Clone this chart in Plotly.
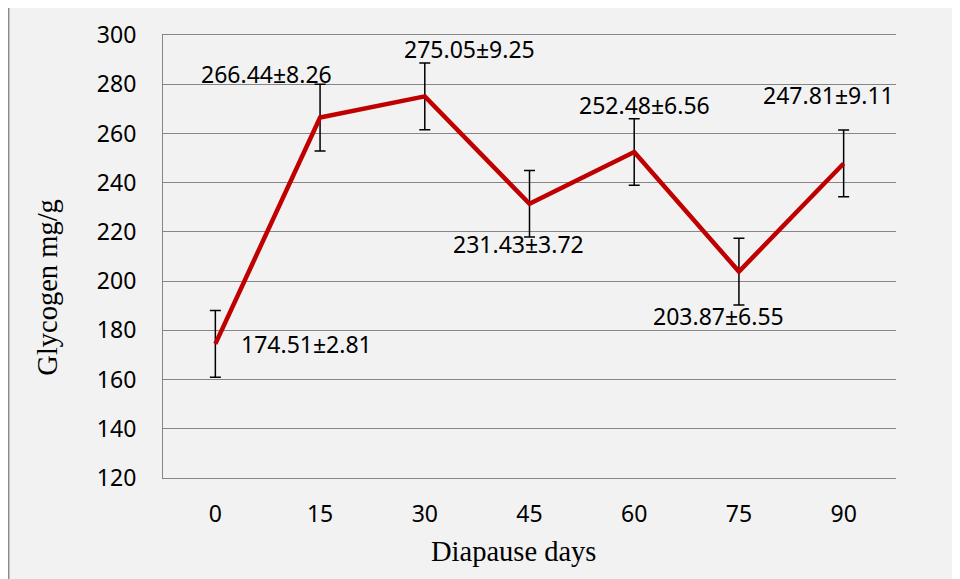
import plotly.graph_objects as go

days = ["0", "15", "30", "45", "60", "75", "90"]
glycogen = [174.51, 266.44, 275.05, 231.43, 252.48, 203.87, 247.81]
sd_text = ["2.81", "8.26", "9.25", "3.72", "6.56", "6.55", "9.11"]
err_bar = [13.54, 13.54, 13.54, 13.54, 13.54, 13.54, 13.54]
y_ticks = [120, 140, 160, 180, 200, 220, 240, 260, 280, 300]

# label offsets (px) relative to each point
label_dx = [91, -54, 45, -11, 10, -20, -15]
label_dy = [0, 44, 47, -40, 47, -44, 68]

fig = go.Figure()
fig.add_trace(go.Scatter(
    x=days, y=glycogen, mode="lines",
    line=dict(color="#c00000", width=4.5),
    error_y=dict(type="data", array=err_bar, visible=True,
                 color="black", thickness=1.5, width=5.5),
    showlegend=False, hoverinfo="skip",
))

num_font = dict(family="Noto Sans", size=23, color="black")
for i, (v, s, dx, dy) in enumerate(zip(glycogen, sd_text, label_dx, label_dy)):
    fig.add_annotation(x=i, y=v, text=f"{v:.2f}±{s}", showarrow=False,
                       xanchor="center", yanchor="middle",
                       xshift=dx, yshift=dy, font=num_font)

serif = dict(family="Liberation Serif", size=28.5, color="black")
fig.add_annotation(xref="paper", yref="paper", x=-0.158, y=0.43,
                   xanchor="center", yanchor="middle",
                   text="Glycogen mg/g", textangle=-90, showarrow=False, font=serif)
fig.add_annotation(xref="paper", yref="paper", x=0.4775, y=-0.167,
                   xanchor="center", yanchor="middle",
                   text="Diapause days", showarrow=False, font=serif)

fig.add_shape(type="rect", xref="paper", yref="paper", x0=-0.2105, y0=-0.27,
              x1=1.12, y1=1.07, line=dict(color="#8c8c8c", width=1.5),
              fillcolor="#f2f2f2", layer="below")

fig.update_layout(
    width=952, height=571,
    margin=dict(l=155, r=64, t=27, b=101, autoexpand=False),
    paper_bgcolor="white", plot_bgcolor="white",
    xaxis=dict(type="category", range=[-0.5, 6.5], showgrid=False,
               showline=True, mirror=True, linecolor="#868686", linewidth=1.2,
               zeroline=False, automargin=False,
               ticks="outside", ticklen=15, tickcolor="rgba(0,0,0,0)",
               tickfont=num_font),
    yaxis=dict(range=[120, 300], tickvals=y_ticks, showgrid=True,
               gridcolor="#868686", gridwidth=1.2, showline=True,
               linecolor="#868686", linewidth=1.2, zeroline=False,
               automargin=False,
               ticks="outside", ticklen=21, tickcolor="rgba(0,0,0,0)",
               tickfont=num_font),
)

fig.write_html("out.html")
